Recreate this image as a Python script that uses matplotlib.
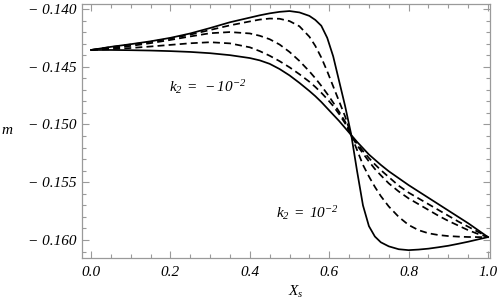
import matplotlib
matplotlib.use("Agg")
import matplotlib.pyplot as plt
from matplotlib.ticker import MultipleLocator

# sampled positions along X_s
xs = [0.0, 0.05, 0.1, 0.15, 0.2, 0.25, 0.3, 0.35, 0.4, 0.425, 0.45, 0.475, 0.5, 0.525,
      0.55, 0.565, 0.58, 0.595, 0.61, 0.625, 0.64, 0.655, 0.67, 0.685, 0.70, 0.715,
      0.73, 0.75, 0.775, 0.8, 0.825, 0.85, 0.875, 0.9, 0.925, 0.95, 0.975, 1.0]

# m for the five curves (steep solid, three dashed, smooth solid)
m_a = [-0.14355, -0.14328, -0.14305, -0.14280, -0.14250, -0.14212, -0.14165, -0.14115,
       -0.14075, -0.14055, -0.14038, -0.14025, -0.14018, -0.14030, -0.14060, -0.14095,
       -0.14145, -0.14250, -0.14410, -0.14625, -0.14840, -0.15080, -0.15400, -0.15700,
       -0.15880, -0.15970, -0.16020, -0.16055, -0.16080, -0.16088, -0.16083, -0.16075,
       -0.16063, -0.16050, -0.16033, -0.16015, -0.15995, -0.15975]
m_b = [-0.14355, -0.14330, -0.14308, -0.14285, -0.14256, -0.14222, -0.14182, -0.14142,
       -0.14108, -0.14092, -0.14083, -0.14085, -0.14105, -0.14150, -0.14240, -0.14320,
       -0.14420, -0.14540, -0.14670, -0.14800, -0.14930, -0.15090, -0.15220, -0.15350,
       -0.15450, -0.15540, -0.15620, -0.15710, -0.15800, -0.15870, -0.15915, -0.15942,
       -0.15957, -0.15966, -0.15971, -0.15974, -0.15975, -0.15975]
m_c = [-0.14355, -0.14340, -0.14320, -0.14296, -0.14268, -0.14238, -0.14210, -0.14200,
       -0.14212, -0.14232, -0.14262, -0.14308, -0.14372, -0.14450, -0.14540, -0.14600,
       -0.14665, -0.14735, -0.14810, -0.14890, -0.14975, -0.15090, -0.15180, -0.15250,
       -0.15320, -0.15385, -0.15440, -0.15510, -0.15580, -0.15640, -0.15690, -0.15740,
       -0.15790, -0.15835, -0.15875, -0.15915, -0.15948, -0.15975]
m_d = [-0.14355, -0.14348, -0.14338, -0.14325, -0.14311, -0.14297, -0.14288, -0.14298,
       -0.14332, -0.14365, -0.14405, -0.14452, -0.14505, -0.14565, -0.14630, -0.14675,
       -0.14725, -0.14780, -0.14840, -0.14910, -0.14990, -0.15090, -0.15165, -0.15230,
       -0.15290, -0.15345, -0.15395, -0.15455, -0.15530, -0.15590, -0.15640, -0.15690,
       -0.15740, -0.15790, -0.15840, -0.15885, -0.15930, -0.15975]
m_e = [-0.14355, -0.14355, -0.14357, -0.14360, -0.14365, -0.14372, -0.14383, -0.14400,
       -0.14425, -0.14445, -0.14475, -0.14520, -0.14575, -0.14640, -0.14710, -0.14755,
       -0.14805, -0.14860, -0.14915, -0.14970, -0.15030, -0.15090, -0.15150, -0.15205,
       -0.15260, -0.15305, -0.15350, -0.15405, -0.15465, -0.15525, -0.15580, -0.15635,
       -0.15690, -0.15745, -0.15800, -0.15855, -0.15915, -0.15975]

xtick_vals = [0.0, 0.2, 0.4, 0.6, 0.8, 1.0]
xtick_labels = ["0.0", "0.2", "0.4", "0.6", "0.8", "1.0"]
ytick_vals = [-0.140, -0.145, -0.150, -0.155, -0.160]
ytick_labels = ["\u2212 0.140", "\u2212 0.145", "\u2212 0.150", "\u2212 0.155", "\u2212 0.160"]

plt.rcParams['font.family'] = ['Liberation Serif', 'DejaVu Serif']
plt.rcParams['mathtext.fontset'] = 'custom'
plt.rcParams['mathtext.rm'] = 'Liberation Serif:italic'
plt.rcParams['mathtext.it'] = 'Liberation Serif:italic'

fig = plt.figure(figsize=(5.0, 3.07), dpi=100)
ax = fig.add_axes([0.164, 0.1596, 0.816, 0.8274])

lw = 1.25
dash = (4.0, 2.4)
ax.plot(xs, m_a, color='black', lw=lw)
ax.plot(xs, m_b, color='black', lw=lw, dashes=dash)
ax.plot(xs, m_c, color='black', lw=lw, dashes=dash)
ax.plot(xs, m_d, color='black', lw=lw, dashes=dash)
ax.plot(xs, m_e, color='black', lw=lw)

ax.set_xlim(-0.0227, 1.005)
ax.set_ylim(-0.16156, -0.13957)

ax.set_xticks(xtick_vals)
ax.set_xticklabels(xtick_labels, style='italic')
ax.set_yticks(ytick_vals)
ax.set_yticklabels(ytick_labels, style='italic')
ax.xaxis.set_minor_locator(MultipleLocator(0.05))
ax.yaxis.set_minor_locator(MultipleLocator(0.001))

frame_col = '#9a9a9a'
for s in ax.spines.values():
    s.set_color(frame_col)
    s.set_linewidth(0.9)
ax.tick_params(which='both', direction='in', top=True, right=True,
               color=frame_col, width=0.8, labelsize=11, labelcolor='black')
ax.tick_params(which='major', length=5)
ax.tick_params(which='minor', length=2.8)
ax.tick_params(axis='x', which='major', pad=6)
ax.tick_params(axis='y', which='major', pad=4)

ax.text(0.295, -0.14675, r'$k_{2}\;=\;-10^{-2}$', fontsize=11, ha='center', va='center')
ax.text(0.544, -0.15766, r'$k_{2}\;=\;10^{-2}$', fontsize=11, ha='center', va='center')

fig.text(1 / 500, 1 - 131 / 307, r'$m$', fontsize=11, ha='left', va='center')
fig.text(296 / 500, 1 - 292 / 307, r'$X_s$', fontsize=11, ha='center', va='center')

fig.savefig('out.png', dpi=100)
